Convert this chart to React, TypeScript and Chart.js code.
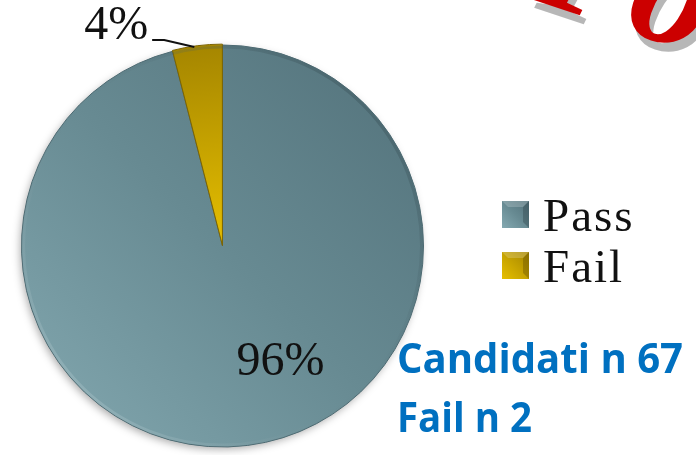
import React, { useEffect, useRef } from 'react';
import { Chart, registerables } from 'chart.js';

Chart.register(...registerables);

const categories = ['Pass', 'Fail'];
const percentValues = [96, 4];
const candidatesTotal = 67;
const failCount = 2;
const titleWord = 'Po';

const W = 696;
const H = 455;

function passGradient(ctx: CanvasRenderingContext2D, x0: number, y0: number, x1: number, y1: number) {
  const g = ctx.createLinearGradient(x0, y0, x1, y1);
  g.addColorStop(0, '#52717a');
  g.addColorStop(0.5, '#678a92');
  g.addColorStop(1, '#84a9b1');
  return g;
}
function failGradient(ctx: CanvasRenderingContext2D, x0: number, y0: number, x1: number, y1: number) {
  const g = ctx.createLinearGradient(x0, y0, x1, y1);
  g.addColorStop(0, '#a48500');
  g.addColorStop(1, '#e6bf00');
  return g;
}

const overlay = {
  id: 'overlay',
  beforeDatasetsDraw(chart: any) {
    const meta = chart.getDatasetMeta(0);
    const arc = meta.data[0];
    if (!arc) return;
    const { x, y, outerRadius } = arc.getProps(['x', 'y', 'outerRadius'], true);
    const ctx = chart.ctx;
    ctx.save();
    ctx.shadowColor = 'rgba(0,0,0,0.35)';
    ctx.shadowBlur = 8;
    ctx.shadowOffsetX = -2;
    ctx.shadowOffsetY = 3;
    ctx.fillStyle = '#6a8c94';
    ctx.beginPath();
    ctx.arc(x, y, outerRadius - 1, 0, Math.PI * 2);
    ctx.fill();
    ctx.restore();
  },
  afterDatasetsDraw(chart: any) {
    const meta = chart.getDatasetMeta(0);
    const arc = meta.data[0];
    if (!arc) return;
    const { x, y, outerRadius: r } = arc.getProps(['x', 'y', 'outerRadius'], true);
    const ctx = chart.ctx;
    ctx.save();
    const rim = ctx.createLinearGradient(x + r, y - r, x - r, y + r);
    rim.addColorStop(0, 'rgba(40,60,66,0.55)');
    rim.addColorStop(0.5, 'rgba(90,120,128,0.0)');
    rim.addColorStop(1, 'rgba(200,225,230,0.6)');
    ctx.strokeStyle = rim;
    ctx.lineWidth = 3;
    ctx.beginPath();
    ctx.arc(x, y, r - 2, 0, Math.PI * 2);
    ctx.stroke();
    ctx.restore();
  },
  afterDraw(chart: any) {
    const ctx = chart.ctx as CanvasRenderingContext2D;
    const meta = chart.getDatasetMeta(0);
    const arc = meta.data[0];
    if (!arc) return;
    const { x: cx, y: cy, outerRadius: r } = arc.getProps(['x', 'y', 'outerRadius'], true);
    const total = percentValues.reduce((a, b) => a + b, 0);
    const pct = percentValues.map((v) => Math.round((v / total) * 100) + '%');

    ctx.save();
    ctx.fillStyle = '#111';
    ctx.font = '48px "Liberation Serif"';
    ctx.textBaseline = 'alphabetic';
    ctx.textAlign = 'left';
    ctx.fillText(pct[0], cx + 0.07 * r, cy + 0.64 * r);
    ctx.textAlign = 'right';
    ctx.fillText(pct[1], cx - 0.37 * r, cy - 1.03 * r);
    ctx.strokeStyle = '#111';
    ctx.lineWidth = 2;
    ctx.beginPath();
    ctx.moveTo(cx - 0.35 * r, cy - 1.025 * r);
    ctx.lineTo(cx - 0.29 * r, cy - 1.025 * r);
    ctx.lineTo(cx - 0.14 * r, cy - 0.99 * r);
    ctx.stroke();
    ctx.restore();

    // legend
    const lx = 502;
    const ly = [201, 252];
    const box = 27;
    categories.forEach((label, i) => {
      const top = ly[i];
      ctx.save();
      const g = i === 0
        ? passGradient(ctx, lx + box, top, lx, top + box)
        : failGradient(ctx, lx + box, top, lx, top + box);
      ctx.fillStyle = g;
      ctx.fillRect(lx, top, box, box);
      ctx.fillStyle = i === 0 ? 'rgba(40,60,66,0.35)' : 'rgba(90,70,0,0.35)';
      ctx.beginPath();
      ctx.moveTo(lx + box, top);
      ctx.lineTo(lx + box, top + box);
      ctx.lineTo(lx + box - 6, top + box - 6);
      ctx.lineTo(lx + box - 6, top + 6);
      ctx.closePath();
      ctx.fill();
      ctx.fillStyle = 'rgba(255,255,255,0.2)';
      ctx.beginPath();
      ctx.moveTo(lx, top);
      ctx.lineTo(lx + box, top);
      ctx.lineTo(lx + box - 6, top + 6);
      ctx.lineTo(lx + 6, top + 6);
      ctx.closePath();
      ctx.fill();
      ctx.fillStyle = '#111';
      ctx.font = '47px "Liberation Serif"';
      (ctx as any).letterSpacing = '2px';
      ctx.textAlign = 'left';
      ctx.fillText(label, 543, top + 30);
      ctx.restore();
    });

    // info text
    ctx.save();
    ctx.fillStyle = '#0070C0';
    ctx.font = 'bold 42px "Open Sans"';
    ctx.textAlign = 'left';
    ctx.fillText('Candidati n ' + candidatesTotal, 397, 373, 286);
    ctx.fillText('Fail n ' + failCount, 397, 432, 135);
    ctx.restore();

    // decorative red title fragment
    ctx.save();
    ctx.translate(572, 0);
    ctx.rotate(0.32);
    ctx.font = 'italic bold 158px "Liberation Serif"';
    ctx.shadowColor = 'rgba(170,170,170,0.85)';
    ctx.shadowOffsetX = 4;
    ctx.shadowOffsetY = 9;
    ctx.fillStyle = '#cc0000';
    ctx.textAlign = 'left';
    ctx.fillText(titleWord, -40, 12);
    ctx.restore();
  },
};

export default function App() {
  const ref = useRef<HTMLCanvasElement>(null);
  useEffect(() => {
    document.body.style.margin = '0';
    const canvas = ref.current!;
    const chart = new Chart(canvas, {
      type: 'pie',
      data: {
        labels: categories,
        datasets: [
          {
            data: percentValues,
            backgroundColor: (c: any) => {
              const area = c.chart.chartArea;
              const ctx = c.chart.ctx;
              if (!area) return c.dataIndex === 0 ? '#678a92' : '#c9a400';
              if (c.dataIndex === 0) {
                return passGradient(ctx, area.right, area.top, area.left, area.bottom);
              }
              const mx = (area.left + area.right) / 2;
              const my = (area.top + area.bottom) / 2;
              return failGradient(ctx, mx - 20, area.top, mx, my);
            },
            borderColor: ['#4d6a72', '#7d6400'],
            borderWidth: 1,
            offset: [0, 2],
          },
        ],
      },
      options: {
        responsive: false,
        animation: false,
        layout: { padding: { left: 20, top: 43, right: 271, bottom: 6 } },
        plugins: {
          legend: { display: false },
          tooltip: { enabled: false },
        },
      },
      plugins: [overlay],
    });
    return () => chart.destroy();
  }, []);
  return (
    <div style={{ position: 'fixed', left: 0, top: 0, width: W, height: H, background: '#fff', overflow: 'hidden' }}>
      <canvas ref={ref} width={W} height={H} style={{ width: W, height: H, display: 'block' }} />
    </div>
  );
}
